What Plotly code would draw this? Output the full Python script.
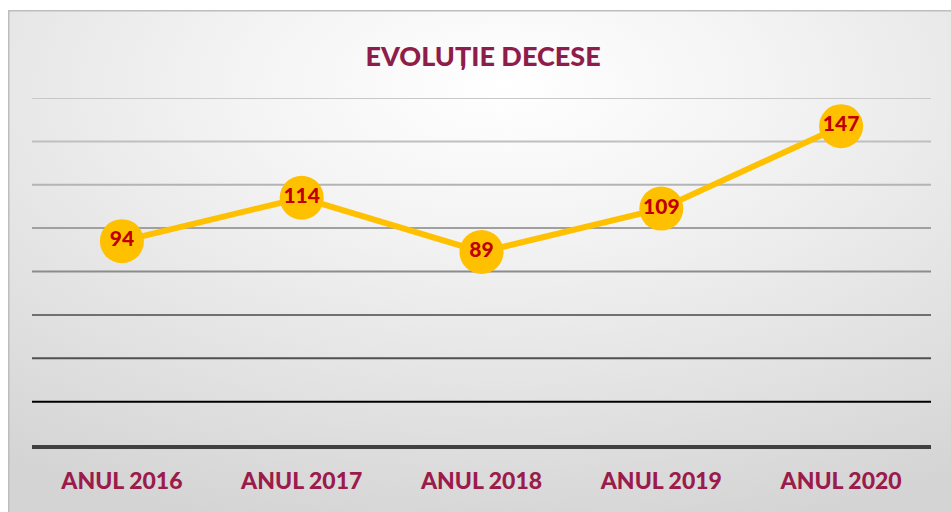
import base64
import plotly.graph_objects as go

categories = ["ANUL 2016", "ANUL 2017", "ANUL 2018", "ANUL 2019", "ANUL 2020"]
deaths = [94, 114, 89, 109, 147]
grid_values = [20, 40, 60, 80, 100, 120, 140, 160]
grid_colors = ["#000000", "#505050", "#707070", "#8c8c8c", "#a0a0a0", "#b4b4b4", "#bfbfbf", "#c8c8c8"]

W, H = 951, 512
L, R, T, B = 32, 20, 98, 67
pw, ph = W - L - R, H - T - B

svg = f'''<svg xmlns="http://www.w3.org/2000/svg" width="943" height="502" viewBox="0 0 943 502" preserveAspectRatio="none">
<defs><radialGradient id="g" cx="52%" cy="15%" r="90%" fx="52%" fy="15%" gradientUnits="objectBoundingBox">
<stop offset="0%" stop-color="#ffffff"/><stop offset="30%" stop-color="#f4f4f4"/><stop offset="100%" stop-color="#d4d4d4"/></radialGradient></defs>
<rect x="0.75" y="0.75" width="950" height="510" fill="url(#g)" stroke="#bdbdbd" stroke-width="1.5"/></svg>'''
src = "data:image/svg+xml;base64," + base64.b64encode(svg.encode()).decode()

fig = go.Figure()
fig.add_trace(go.Scatter(
    x=categories, y=deaths, mode="lines+markers+text",
    line=dict(color="#FFC000", width=6),
    marker=dict(size=44, color="#FFC000"),
    text=[str(v) for v in deaths], textposition="middle center",
    textfont=dict(family="Lato", size=21, color="#C00000", weight=900),
    hoverinfo="skip", cliponaxis=False,
))

shapes = []
for v, c in zip(grid_values, grid_colors):
    shapes.append(dict(type="line", xref="paper", yref="y", x0=0, x1=1, y0=v, y1=v,
                       line=dict(color=c, width=2), layer="below"))

fig.update_layout(
    width=W, height=H,
    margin=dict(l=L, r=R, t=T, b=B, pad=0),
    paper_bgcolor="white", plot_bgcolor="rgba(0,0,0,0)",
    showlegend=False,
    title=dict(text="EVOLUȚIE DECESE", x=0.508, xanchor="center", y=1 - 57 / H,
               yanchor="middle", yref="container",
               font=dict(family="Lato", size=27, color="#8E1D4C", weight=900)),
    images=[dict(source=src, xref="paper", yref="paper",
                 x=(8 - L) / pw, y=(H - B - 10) / ph, sizex=(W - 8) / pw, sizey=(H - 10) / ph,
                 xanchor="left", yanchor="top", sizing="stretch", layer="below")],
    shapes=shapes,
    xaxis=dict(type="category", range=[-0.5, 4.5], showgrid=False, zeroline=False,
               showline=True, linecolor="#404040", linewidth=3.5, ticks="", ticklabelstandoff=13,
               tickfont=dict(family="Lato", size=23, color="#9B1B4B", weight=900)),
    yaxis=dict(range=[0, 160], showgrid=False, zeroline=False, showline=False,
               showticklabels=False, ticks=""),
)

fig.write_html("out.html", config={"displayModeBar": False, "staticPlot": True},
               post_script="document.body.style.margin='0';document.body.style.overflow='hidden';")
